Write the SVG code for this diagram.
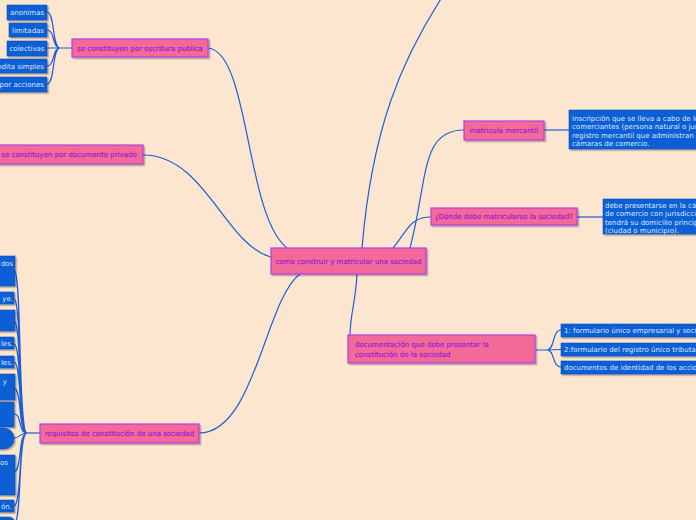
<svg xmlns="http://www.w3.org/2000/svg" width="696" height="520" viewBox="0 0 696 520">
<defs>
<filter id="sh" x="-20%" y="-20%" width="140%" height="160%">
<feDropShadow dx="1.5" dy="1.5" stdDeviation="0.7" flood-color="#000" flood-opacity="0.3"/>
</filter>
<style>
.pk{fill:#f36b9a;stroke:#b33ee6;stroke-width:1.2;filter:url(#sh)}
.pt{font-family:"DejaVu Sans",Verdana,sans-serif;font-size:7px;fill:#9a1fcf;stroke:#9a1fcf;stroke-width:0.2}
.bl{fill:#0c5ed6;stroke:#0a4fb8;stroke-width:0.6;filter:url(#sh)}
.bt{font-family:"DejaVu Sans",Verdana,sans-serif;font-size:7px;fill:#dce9ff}
.c{fill:none;stroke:#1a60d8;stroke-width:1.2}
.m{text-anchor:middle}
.e{text-anchor:end}
</style>
</defs>
<rect width="696" height="520" fill="#fde6d0"/>
<g id="connectors">
<path class="c" d="M287,248 C245,215 250,52 208,48"/>
<path class="c" d="M271,257 C225,245 205,155 143,155"/>
<path class="c" d="M300,274 C265,300 255,433 199,433"/>
<path class="c" d="M357,274 C356,300 350,315 350,335"/>
<path class="c" d="M393,248 C408,230 410,217 431,217"/>
<path class="c" d="M410,248 C428,180 420,130 464,130"/>
<path class="c" d="M362,248 C372,130 400,60 448,-12"/>
<path class="c" d="M544,130 L569,130"/>
<path class="c" d="M577,217 L603,217"/>
<path class="c" d="M535,350 L547,350 M547,350 C555,350 552,330 561,330 M547,350 L561,349.5 M547,350 C555,350 552,367 561,367"/>
<path class="c" d="M72,48 L60,48 M60,48 C52,48 55,12 47,12 M60,48 C52,48 55,30 47,30 M60,48 L47,48 M60,48 C52,48 55,66 47,66 M60,48 C52,48 55,84 47,84"/>
<path class="c" stroke-width="2" d="M40,433 L27,433"/>
<path class="c" d="M27,433 C18,433 22,270 14,270 M27,433 C18,433 22,299 14,299 M27,433 C18,433 22,321 14,321 M27,433 C18,433 22,344 14,344 M27,433 C18,433 22,362 14,362 M27,433 C18,433 22,388 14,388 M27,433 C18,433 22,414 14,414 M27,433 C20,433 20,438 14,438 M27,433 C18,433 22,472 14,472 M27,433 C18,433 22,506 14,506 M27,433 C18,433 22,524 14,524"/>
</g>
<g id="central"><rect class="pk" x="271" y="248" width="155" height="26"/><text class="pt m" x="348.5" y="263.5">como construir y matricular una sociedad</text></g>
<g id="escritura"><rect class="pk" x="72" y="39" width="136" height="18"/><text class="pt m" x="140" y="50.5">se constituyen por escritura publica</text></g>
<g id="privado"><rect class="pk" x="-5" y="145" width="148" height="19"/><text class="pt m" x="69" y="157">se constituyen por documento privado</text></g>
<g id="matricula"><rect class="pk" x="464" y="121" width="80" height="19"/><text class="pt m" x="504" y="133">matricula mercantil</text></g>
<g id="donde"><rect class="pk" x="431" y="208" width="146" height="17"/><text class="pt m" x="504" y="219">¿Dónde debe matricularse la sociedad?</text></g>
<g id="documentacion"><rect class="pk" x="348" y="335" width="187" height="28"/><text class="pt" x="355" y="347">documentación que debe presentar la</text><text class="pt" x="355" y="357">constitución de la sociedad</text></g>
<g id="requisitos"><rect class="pk" x="40" y="424" width="159" height="19"/><text class="pt m" x="119.5" y="436">requisitos de constitución de una sociedad</text></g>
<g id="anonimas"><rect class="bl" x="7" y="5" width="40" height="15"/><text class="bt m" x="27" y="15">anonimas</text></g>
<g id="limitadas"><rect class="bl" x="9" y="23" width="38" height="14"/><text class="bt m" x="28" y="32.5">limitadas</text></g>
<g id="colectivas"><rect class="bl" x="7" y="41" width="40" height="15"/><text class="bt m" x="27" y="51">colectivas</text></g>
<g id="comandita-simples"><rect class="bl" x="-40" y="59" width="87" height="14"/><text class="bt e" x="44" y="68.5">en comandita simples</text></g>
<g id="comandita-acciones"><rect class="bl" x="-60" y="77" width="107" height="15"/><text class="bt e" x="44" y="87">en comandita por acciones</text></g>
<g id="desc-matricula"><rect class="bl" x="569" y="110" width="140" height="39"/>
<text class="bt" x="572" y="120.5">inscripción que se lleva a cabo de los</text>
<text class="bt" x="572" y="129">comerciantes (persona natural o jurídica) en el</text>
<text class="bt" x="572" y="137.5">registro mercantil que administran las</text>
<text class="bt" x="572" y="146">cámaras de comercio.</text></g>
<g id="desc-donde"><rect class="bl" x="603" y="199" width="100" height="35"/>
<text class="bt" x="605" y="207.5">debe presentarse en la cámara</text>
<text class="bt" x="605" y="216">de comercio con jurisdicción donde</text>
<text class="bt" x="605" y="224.5">tendrá su domicilio principal la sociedad</text>
<text class="bt" x="605" y="233">(ciudad o municipio).</text></g>
<g id="doc1"><rect class="bl" x="561" y="324" width="150" height="13"/><text class="bt" x="564" y="333">1: formulario único empresarial y social</text></g>
<g id="doc2"><rect class="bl" x="561" y="343" width="150" height="13"/><text class="bt" x="564" y="352">2:formulario del registro único tributario</text></g>
<g id="doc3"><rect class="bl" x="561" y="361" width="150" height="13"/><text class="bt" x="564" y="370">documentos de identidad de los accionistas</text></g>
<g id="req1"><rect class="bl" x="-20" y="256" width="35" height="30"/><text class="bt e" x="13" y="266">dos</text></g>
<g id="req2"><rect class="bl" x="-20" y="292" width="34" height="12"/><text class="bt e" x="13" y="300.5">ye.</text></g>
<g id="req3"><rect class="bl" x="-20" y="310" width="35" height="21"/></g>
<g id="req4"><rect class="bl" x="-20" y="337" width="34" height="12"/><text class="bt e" x="13" y="345.5">les.</text></g>
<g id="req5"><rect class="bl" x="-20" y="356" width="34" height="12"/><text class="bt e" x="13" y="364.5">les.</text></g>
<g id="req6"><rect class="bl" x="-20" y="374" width="35" height="26"/><text class="bt e" x="7" y="383.5">y</text></g>
<g id="req7"><rect class="bl" x="-20" y="402" width="34" height="25"/></g>
<g id="req8"><rect class="bl" x="-20" y="428" width="34" height="21" rx="10"/></g>
<g id="req9"><rect class="bl" x="-20" y="455" width="35" height="40"/><text class="bt e" x="8" y="465">os</text></g>
<g id="req10"><rect class="bl" x="-20" y="500" width="34" height="12"/><text class="bt e" x="12" y="508.5">ón.</text></g>
<g id="req11"><rect class="bl" x="-20" y="517" width="35" height="20" rx="6"/></g>
</svg>
